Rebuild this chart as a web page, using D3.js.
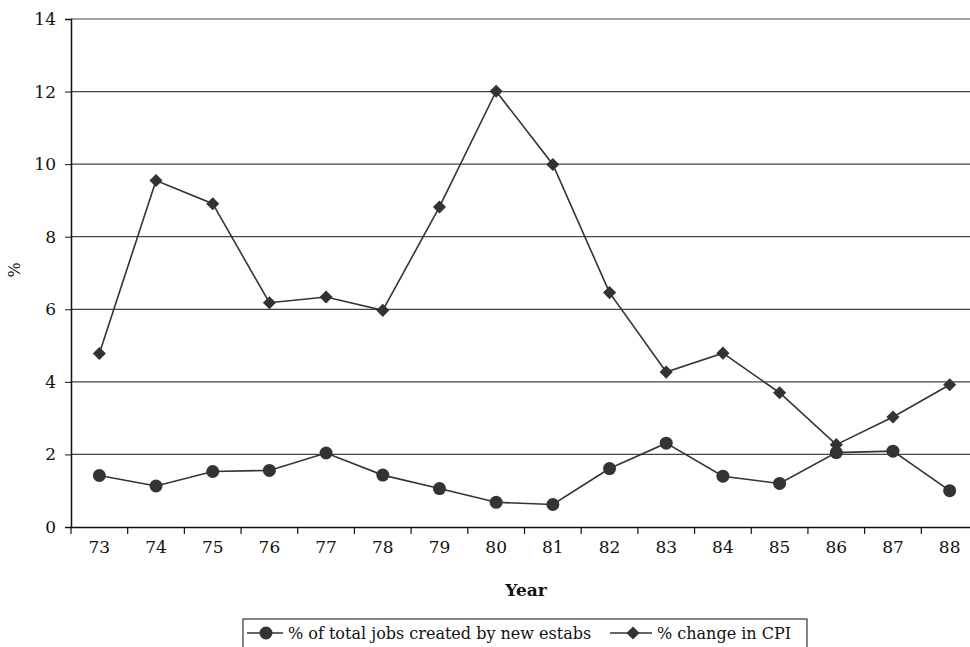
<html>
<head>
<script src="https://d3js.org/d3.v7.min.js"></script>
<style>
body { margin: 0; background: #fff; }
text { font-family: "DejaVu Serif", "Liberation Serif", serif; fill: #111; }
</style>
</head>
<body>
<script>

// data
var years = ["73","74","75","76","77","78","79","80","81","82","83","84","85","86","87","88"];
var newJobs = [1.42,1.13,1.53,1.56,2.04,1.43,1.06,0.68,0.62,1.61,2.31,1.40,1.20,2.05,2.09,1.00];
var cpi = [4.78,9.55,8.91,6.18,6.34,5.97,8.82,12.01,9.99,6.46,4.27,4.79,3.70,2.27,3.03,3.92];
var yTicks = [0,2,4,6,8,10,12,14];
var seriesNames = ["% of total jobs created by new estabs", "% change in CPI"];

var margin = {top: 19, right: 0, bottom: 120, left: 71},
    width = 907,      // plot runs slightly past the right edge, like the original
    height = 508;

var svg = d3.select("body").append("svg")
    .attr("width", 970)
    .attr("height", 647);

var g = svg.append("g")
    .attr("transform", "translate(" + margin.left + "," + margin.top + ")");

var x = d3.scaleBand().domain(years).range([0, width]);
var y = d3.scaleLinear().domain([0, 14]).range([height, 0]);

// gridlines
g.selectAll(".grid")
    .data(yTicks.slice(1))
  .enter().append("line")
    .attr("x1", 0).attr("x2", width)
    .attr("y1", function(d) { return y(d); })
    .attr("y2", function(d) { return y(d); })
    .attr("stroke", "#444")
    .attr("stroke-width", 1.2);

// y axis
var yAxis = g.append("g")
    .call(d3.axisLeft(y).tickValues(yTicks).tickSize(6).tickPadding(9));
yAxis.select(".domain").attr("stroke", "#111").attr("stroke-width", 1.5);
yAxis.selectAll("line").attr("stroke", "#111");
yAxis.selectAll("text").style("font-size", "17px");

// x axis
var xAxis = g.append("g")
    .attr("transform", "translate(0," + height + ")")
    .call(d3.axisBottom(x).tickSize(0).tickPadding(14));
xAxis.select(".domain").attr("stroke", "#111").attr("stroke-width", 1.5);
xAxis.selectAll("text").style("font-size", "17px");
// ticks between categories
g.selectAll(".xtick")
    .data(years.concat(["end"]))
  .enter().append("line")
    .attr("x1", function(d, i) { return i * x.step(); })
    .attr("x2", function(d, i) { return i * x.step(); })
    .attr("y1", height).attr("y2", height + 7)
    .attr("stroke", "#111").attr("stroke-width", 1.2);

var cx = function(d, i) { return x(years[i]) + x.bandwidth() / 2; };
var line = d3.line()
    .x(function(d, i) { return x(years[i]) + x.bandwidth() / 2; })
    .y(function(d) { return y(d); });

// CPI series
g.append("path").datum(cpi)
    .attr("d", line).attr("fill", "none")
    .attr("stroke", "#333").attr("stroke-width", 1.6);
var diamond = d3.symbol().type(d3.symbolDiamond2).size(110);
g.selectAll(".dia")
    .data(cpi)
  .enter().append("path")
    .attr("d", diamond)
    .attr("transform", function(d, i) { return "translate(" + cx(d, i) + "," + y(d) + ")"; })
    .attr("fill", "#333");

// new jobs series
g.append("path").datum(newJobs)
    .attr("d", line).attr("fill", "none")
    .attr("stroke", "#333").attr("stroke-width", 1.6);
g.selectAll(".dot")
    .data(newJobs)
  .enter().append("circle")
    .attr("cx", cx)
    .attr("cy", function(d) { return y(d); })
    .attr("r", 6.5)
    .attr("fill", "#333");

// axis titles
svg.append("text")
    .attr("x", margin.left + 455).attr("y", 596)
    .attr("text-anchor", "middle")
    .style("font-size", "17px").style("font-weight", "bold")
    .text("Year");

svg.append("text")
    .attr("transform", "translate(20,270) rotate(-90)")
    .attr("text-anchor", "middle")
    .style("font-size", "16px")
    .text("%");

// legend
var leg = svg.append("g").attr("transform", "translate(243,619)");
leg.append("rect")
    .attr("x", 0).attr("y", 0)
    .attr("width", 564).attr("height", 40)
    .attr("fill", "none").attr("stroke", "#333").attr("stroke-width", 1.2);

var legY = 14;
leg.append("line").attr("x1", 4).attr("x2", 40).attr("y1", legY).attr("y2", legY)
    .attr("stroke", "#333").attr("stroke-width", 1.6);
leg.append("circle").attr("cx", 23).attr("cy", legY).attr("r", 6.5).attr("fill", "#333");
leg.append("text").attr("x", 45).attr("y", legY + 6)
    .style("font-size", "16px").text(seriesNames[0]);

leg.append("line").attr("x1", 367).attr("x2", 409).attr("y1", legY).attr("y2", legY)
    .attr("stroke", "#333").attr("stroke-width", 1.6);
leg.append("path").attr("d", diamond)
    .attr("transform", "translate(390," + legY + ")").attr("fill", "#333");
leg.append("text").attr("x", 414).attr("y", legY + 6)
    .style("font-size", "16px").text(seriesNames[1]);

</script>
</body>
</html>
